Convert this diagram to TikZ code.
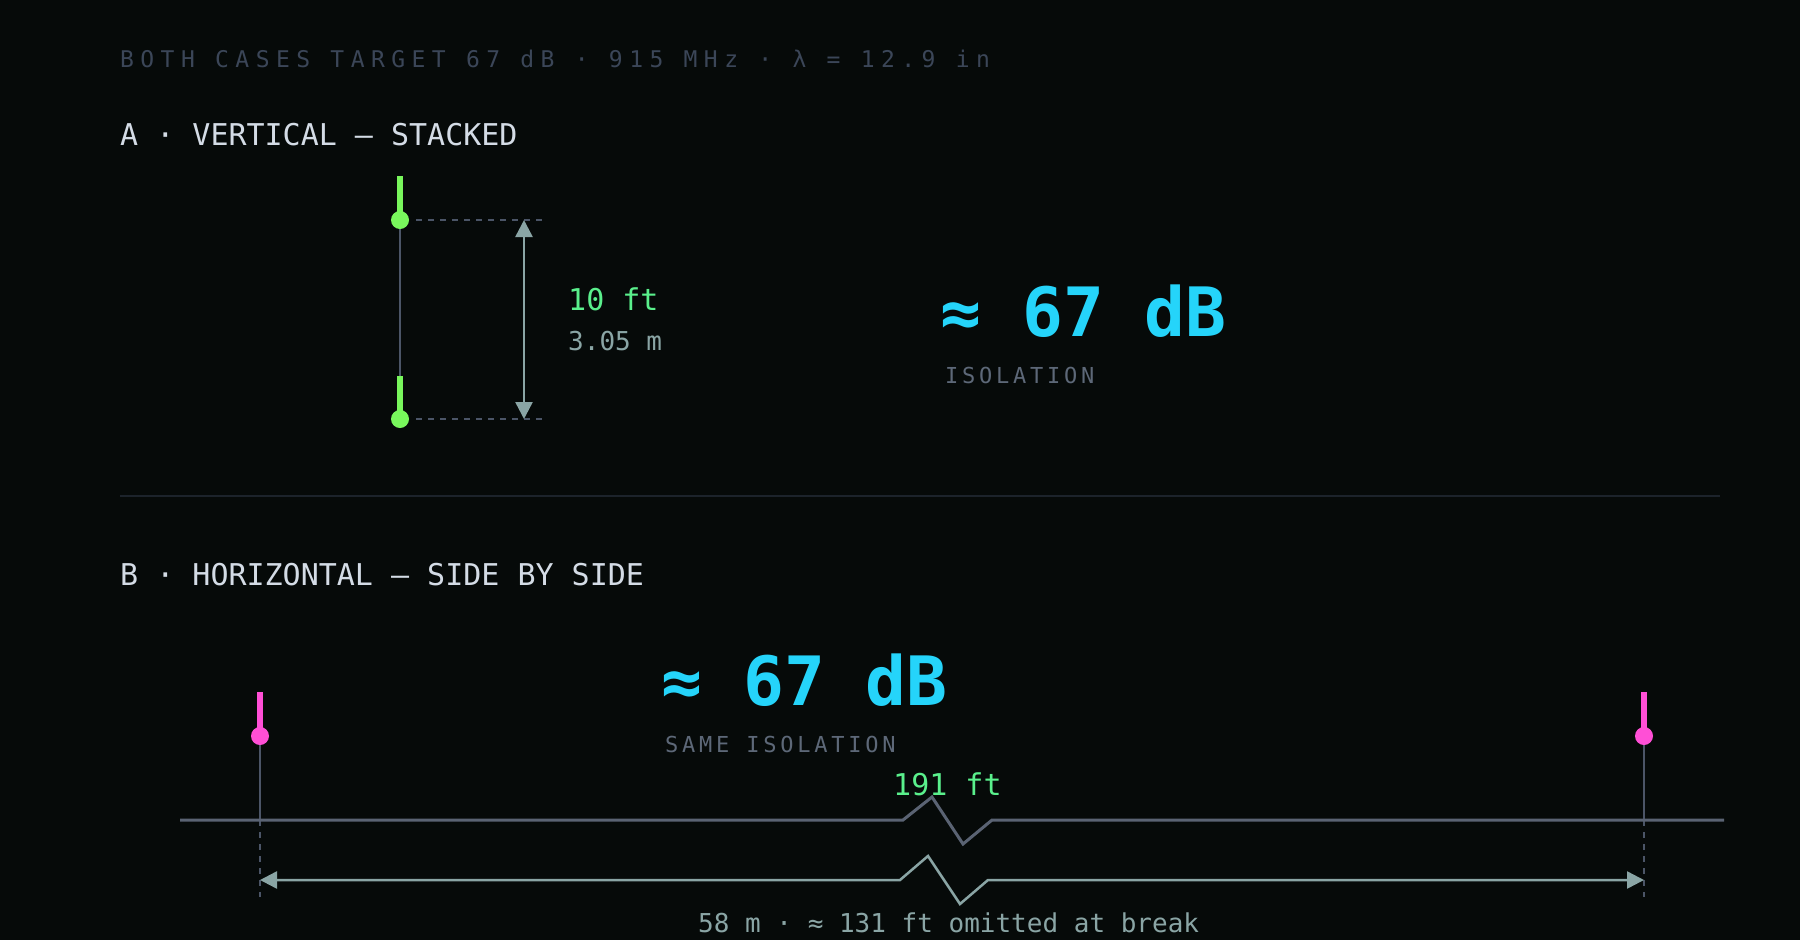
\documentclass[tikz,border=0pt]{standalone}
\usepackage{fontspec}
\usetikzlibrary{arrows.meta}
\newfontfamily\mono{DejaVu Sans Mono}
\newfontfamily\monosp[LetterSpace=28]{DejaVu Sans Mono}
\newfontfamily\monolab[LetterSpace=17]{DejaVu Sans Mono}
\definecolor{bgc}{RGB}{6,10,9}
\definecolor{capgrey}{RGB}{59,70,88}
\definecolor{secc}{RGB}{212,220,230}
\definecolor{antgreen}{RGB}{120,247,92}
\definecolor{txtgreen}{RGB}{90,240,140}
\definecolor{teal}{RGB}{138,165,165}
\definecolor{cyanc}{RGB}{37,212,250}
\definecolor{labgrey}{RGB}{93,104,120}
\definecolor{thin}{RGB}{75,85,103}
\definecolor{ground}{RGB}{90,99,115}
\definecolor{pinkc}{RGB}{255,79,214}
\definecolor{sepc}{RGB}{28,35,43}
\tikzset{
  txt/.style={inner sep=0pt, anchor=base west},
  caption/.style={txt, text=capgrey, font=\monosp\fontsize{23}{27}\selectfont},
  section/.style={txt, text=secc, font=\mono\fontsize{30}{35}\selectfont},
  bigdb/.style={txt, text=cyanc, font=\mono\bfseries\fontsize{68}{78}\selectfont},
  isolab/.style={txt, text=labgrey, font=\monolab\fontsize{22}{26}\selectfont},
  gtxt/.style={txt, text=txtgreen, font=\mono\fontsize{30}{34}\selectfont},
  ttxt/.style={txt, text=teal, font=\mono\fontsize{26}{30}\selectfont},
  rod/.style={line width=6pt, line cap=butt},
  thinline/.style={draw=thin, line width=2pt},
  guide/.style={draw=thin, line width=1.6pt, dash pattern=on 6pt off 6pt},
  dimarrow/.style={draw=teal, line width=2.5pt, {Triangle[length=17pt,width=17pt]}-{Triangle[length=17pt,width=17pt]}},
  groundline/.style={draw=ground, line width=3pt, line join=miter},
}
\begin{document}
\begin{tikzpicture}[x=1pt,y=-1pt]
\fill[bgc] (0,0) rectangle (1800,940);
\useasboundingbox (0,0) rectangle (1800,940);

% header
\node[caption] (cap) at (120,67) {BOTH CASES TARGET 67 dB · 915 MHz · λ = 12.9 in};
\node[section] (secA) at (120,145) {A · VERTICAL — STACKED};

% --- A: stacked antennas
\coordinate (topRod) at (400,176);
\coordinate (topDot) at (400,220);
\coordinate (botRod) at (400,376);
\coordinate (botDot) at (400,419);
\draw[thinline] (topDot) -- (botRod);
\draw[antgreen, rod] (topRod) -- (topDot);
\draw[antgreen, rod] (botRod) -- (botDot);
\fill[antgreen] (topDot) circle (9pt);
\fill[antgreen] (botDot) circle (9pt);
\coordinate (gTopA) at (416,220);
\coordinate (gTopB) at (542,220);
\coordinate (gBotA) at (416,419);
\coordinate (gBotB) at (542,419);
\draw[guide] (gTopA) -- (gTopB);
\draw[guide] (gBotA) -- (gBotB);
\coordinate (arTop) at (524,220);
\coordinate (arBot) at (524,419);
\draw[dimarrow] (arTop) -- (arBot);
\node[gtxt] (ftA) at (568,310) {10 ft};
\node[ttxt] (mA) at (568,350) {3.05 m};

\node[bigdb] (dbA) at (940,336) {≈ 67 dB};
\node[isolab] (isoA) at (945,383) {ISOLATION};

% separator
\coordinate (sepL) at (120,496);
\coordinate (sepR) at (1720,496);
\draw[sepc, line width=1.5pt] (sepL) -- (sepR);

% --- B: side by side
\node[section] (secB) at (120,585) {B · HORIZONTAL — SIDE BY SIDE};
\node[bigdb] (dbB) at (661,705) {≈ 67 dB};
\node[isolab] (isoB) at (665,752) {SAME ISOLATION};

\coordinate (lRod) at (260,692);
\coordinate (lDot) at (260,736);
\coordinate (lGnd) at (260,820);
\coordinate (lEnd) at (260,897);
\coordinate (rRod) at (1644,692);
\coordinate (rDot) at (1644,736);
\coordinate (rGnd) at (1644,820);
\coordinate (rEnd) at (1644,897);

\draw[thinline] (lDot) -- (lGnd);
\draw[thinline] (rDot) -- (rGnd);
\draw[guide] (lGnd) -- (lEnd);
\draw[guide] (rGnd) -- (rEnd);

% ground line with break
\coordinate (gL) at (180,820);
\coordinate (gR) at (1724,820);
\draw[groundline] (gL) -- (903,820) -- (932,797) -- (963,844) -- (992,820) -- (gR);

\draw[pinkc, rod] (lRod) -- (lDot);
\draw[pinkc, rod] (rRod) -- (rDot);
\fill[pinkc] (lDot) circle (9pt);
\fill[pinkc] (rDot) circle (9pt);

% dimension arrow with break
\coordinate (aL) at (260,880);
\coordinate (aR) at (1644,880);
\draw[dimarrow, line join=miter] (aL) -- (900,880) -- (928,856) -- (960,904) -- (988,880) -- (aR);

\node[gtxt] (ftB) at (893,795) {191 ft};
\node[ttxt] (omit) at (698,932) {58 m · ≈ 131 ft omitted at break};
\end{tikzpicture}
\end{document}
